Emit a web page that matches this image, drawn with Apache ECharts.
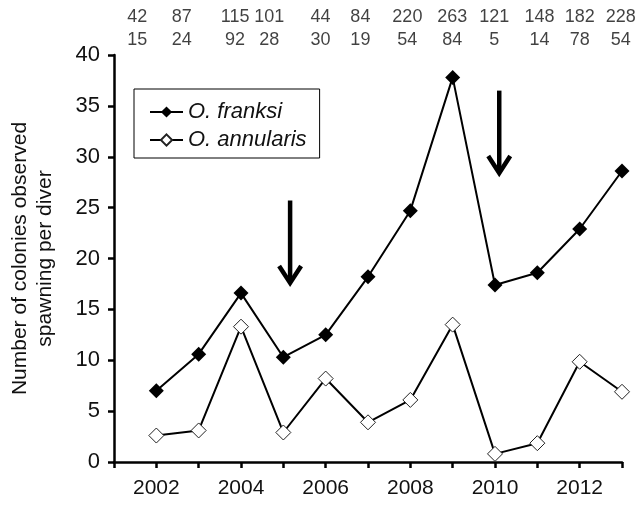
<!DOCTYPE html>
<html>
<head>
<meta charset="utf-8">
<script src="https://cdn.jsdelivr.net/npm/echarts@6/dist/echarts.min.js"></script>
<style>html,body{margin:0;padding:0;background:#fff}#c{width:640px;height:505px}</style>
</head>
<body>
<div id="c"></div>
<script>
// Data
const years = [2002, 2003, 2004, 2005, 2006, 2007, 2008, 2009, 2010, 2011, 2012, 2013];
const franksi = [7.0, 10.6, 16.6, 10.3, 12.5, 18.2, 24.7, 37.8, 17.4, 18.6, 22.9, 28.6];
const annularis = [2.6, 3.1, 13.3, 2.9, 8.2, 3.9, 6.1, 13.5, 0.8, 1.85, 9.85, 6.9];
const topRow1 = [42, 87, 115, 101, 44, 84, 220, 263, 121, 148, 182, 228];
const topRow2 = [15, 24, 92, 28, 30, 19, 54, 84, 5, 14, 78, 54];
const topLabelYears = [2001.55, 2002.6, 2003.86, 2004.67, 2005.88, 2006.82, 2007.93, 2008.99, 2009.98, 2011.05, 2012.0, 2012.97];
// arrows: [year, top value, tip value]
const arrows = [[2005.16, 25.7, 17.4], [2010.1, 36.5, 28.2]];
const xTickLabels = [2002, 2004, 2006, 2008, 2010, 2012];

const FONT = '"Liberation Sans", Arial, sans-serif';
const TXT = '#111';

const chart = echarts.init(document.getElementById('c'), null, {renderer: 'canvas'});
chart.setOption({
  animation: false,
  backgroundColor: '#fff',
  grid: {left: 112, right: 18, top: 55, bottom: 43, containLabel: false},
  legend: {
    data: ['O. franksi', 'O. annularis'],
    orient: 'vertical',
    left: 134, top: 89,
    borderColor: '#000', borderWidth: 1,
    padding: [12, 13, 7, 15],
    itemWidth: 33, itemHeight: 14, itemGap: 6,
    textStyle: {fontFamily: FONT, fontSize: 22, fontStyle: 'italic', color: TXT, lineHeight: 20}
  },
  xAxis: {
    type: 'value', min: 2001, max: 2013, interval: 1,
    axisLine: {show: true, lineStyle: {color: '#000', width: 2.5}},
    axisTick: {show: true, length: 6, lineStyle: {color: '#000', width: 2.5}},
    axisLabel: {
      margin: 16, fontFamily: FONT, fontSize: 21, color: TXT,
      formatter: v => xTickLabels.indexOf(v) >= 0 ? String(v) : ''
    },
    splitLine: {show: false}
  },
  yAxis: {
    type: 'value', min: 0, max: 40, interval: 5,
    name: 'Number of colonies observed\nspawning per diver',
    nameLocation: 'middle', nameGap: 56, nameRotate: 90,
    nameTextStyle: {fontFamily: FONT, fontSize: 21, color: TXT, lineHeight: 25, align: 'center'},
    axisLine: {show: true, lineStyle: {color: '#000', width: 2.5}},
    axisTick: {show: true, length: 6, lineStyle: {color: '#000', width: 2.5}},
    axisLabel: {margin: 14, fontFamily: FONT, fontSize: 22, color: TXT},
    splitLine: {show: false}
  },
  series: [
    {
      name: 'O. franksi', type: 'line',
      data: years.map((y, i) => [y, franksi[i]]),
      symbol: 'diamond', symbolSize: 15,
      lineStyle: {color: '#000', width: 2},
      itemStyle: {color: '#000', borderColor: '#000', borderWidth: 0},
      z: 3
    },
    {
      name: 'O. annularis', type: 'line',
      data: years.map((y, i) => [y, annularis[i]]),
      symbol: 'diamond', symbolSize: 15,
      lineStyle: {color: '#000', width: 2},
      itemStyle: {color: '#fff', borderColor: '#222', borderWidth: 1},
      z: 3
    },
    {
      name: 'topLabels', type: 'scatter',
      data: topLabelYears.map((y, i) => [y, 40, topRow1[i], topRow2[i]]),
      symbolSize: 0, silent: true, clip: false,
      label: {
        show: true, position: 'top', distance: 3,
        fontFamily: FONT, fontSize: 18, color: TXT, lineHeight: 23, align: 'center',
        formatter: p => p.data[2] + '\n' + p.data[3]
      }
    },
    {
      name: 'arrows', type: 'custom', silent: true, clip: false,
      data: arrows,
      encode: {x: 0, y: [1, 2]},
      renderItem: (params, api) => {
        const top = api.coord([api.value(0), api.value(1)]);
        const tip = api.coord([api.value(0), api.value(2)]);
        const st = {stroke: '#000', lineWidth: 4.5, fill: null, lineJoin: 'miter', lineCap: 'butt'};
        return {
          type: 'group',
          children: [
            {type: 'line', shape: {x1: top[0], y1: top[1], x2: tip[0], y2: tip[1] - 3}, style: st},
            {type: 'polyline', shape: {points: [[tip[0] - 11, tip[1] - 19], [tip[0], tip[1] - 2], [tip[0] + 11, tip[1] - 19]]}, style: st}
          ]
        };
      }
    }
  ]
});
</script>
</body>
</html>
